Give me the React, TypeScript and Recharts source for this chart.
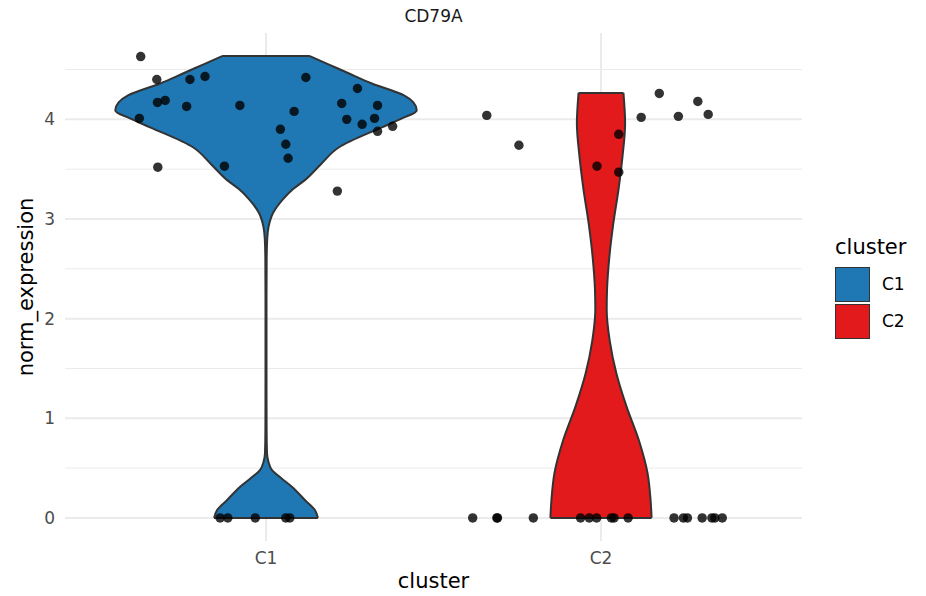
import { ComposedChart, Area, Line, Scatter, XAxis, YAxis, ZAxis, CartesianGrid } from 'recharts';

const FONT = '"DejaVu Sans", sans-serif';
const GRID = '#EBEBEB';
const OUTLINE = '#333333';

const clusters = ['C1', 'C2'];
const clusterFill = ['#1F78B4', '#E31A1C'];

// density outline per cluster: expression level and half width (category units)
const c1Level = [0, 0.08, 0.18, 0.31, 0.4, 0.48, 0.56, 0.65, 0.9, 1.5, 2.2, 2.6, 2.8, 2.92, 3.06, 3.2, 3.3, 3.39, 3.55, 3.72, 3.92, 4.01, 4.09, 4.17, 4.24, 4.36, 4.46, 4.55, 4.635];
const c1Half = [0.155, 0.146, 0.116, 0.078, 0.045, 0.018, 0.0075, 0.003, 0.0018, 0.0015, 0.0015, 0.002, 0.0036, 0.0075, 0.021, 0.051, 0.081, 0.116, 0.164, 0.218, 0.346, 0.406, 0.45, 0.44, 0.412, 0.316, 0.248, 0.188, 0.131];
const c2Level = [0, 0.18, 0.45, 0.78, 1.12, 1.45, 1.78, 2.09, 2.29, 2.62, 2.96, 3.29, 3.62, 3.96, 4.265];
const c2Half = [0.151, 0.148, 0.139, 0.113, 0.076, 0.046, 0.026, 0.017, 0.018, 0.025, 0.037, 0.052, 0.064, 0.072, 0.067];

// jittered cells
const c1JitterX = [0.626, 0.674, 0.773, 0.818, 1.119, 1.273, 0.676, 0.699, 0.763, 0.922, 0.622, 1.084, 1.226, 1.333, 1.241, 1.324, 1.287, 1.333, 1.378, 1.043, 1.059, 1.066, 0.876, 0.677, 1.213, 0.863, 0.886, 0.968, 1.059, 1.071];
const c1Expr = [4.63, 4.4, 4.4, 4.43, 4.42, 4.31, 4.17, 4.19, 4.13, 4.14, 4.01, 4.08, 4.16, 4.14, 4.0, 4.01, 3.95, 3.88, 3.93, 3.9, 3.75, 3.61, 3.53, 3.52, 3.28, 0, 0, 0, 0, 0];
const c2JitterX = [1.659, 1.755, 2.174, 2.289, 2.12, 2.231, 2.32, 2.053, 1.988, 2.053, 1.617, 1.689, 1.691, 1.798, 1.939, 1.965, 1.987, 2.031, 2.039, 2.081, 2.218, 2.246, 2.258, 2.302, 2.331, 2.34, 2.362];
const c2Expr = [4.04, 3.74, 4.26, 4.18, 4.02, 4.03, 4.05, 3.85, 3.53, 3.47, 0, 0, 0, 0, 0, 0, 0, 0, 0, 0, 0, 0, 0, 0, 0, 0, 0];

const yTicks = [0, 1, 2, 3, 4];
const yMinor = [0.5, 1.5, 2.5, 3.5, 4.5];

const violins = [
  { level: c1Level, half: c1Half },
  { level: c2Level, half: c2Half },
].map((v, i) => {
  const pos = i + 1;
  const last = v.level.length - 1;
  return {
    name: clusters[i],
    fill: clusterFill[i],
    rows: v.level.map((y, k) => ({ y, band: [pos - v.half[k], pos + v.half[k]] })),
    // flat ends of the trimmed violin
    bottom: [{ y: v.level[0], edge: pos - v.half[0] }, { y: v.level[0], edge: pos + v.half[0] }],
    top: [{ y: v.level[last], edge: pos - v.half[last] }, { y: v.level[last], edge: pos + v.half[last] }],
  };
});

const cells = [
  ...c1JitterX.map((x, i) => ({ x, y: c1Expr[i] })),
  ...c2JitterX.map((x, i) => ({ x, y: c2Expr[i] })),
];

const yMax = Math.max(...c1Level, ...c2Level);
const yPad = yMax * 0.05;

function ClusterLegend() {
  return (
    <div style={{ position: 'absolute', left: 835, top: 237 }}>
      <div style={{ fontSize: 21, lineHeight: '21px', color: '#000' }}>cluster</div>
      {clusters.map((c, i) => (
        <div key={c} style={{ position: 'absolute', left: 0, top: 30 + i * 37, display: 'flex', alignItems: 'center' }}>
          <div style={{ width: 33, height: 33, background: clusterFill[i], border: `1.5px solid ${OUTLINE}` }} />
          <span style={{ marginLeft: 12, fontSize: 17, lineHeight: '17px', color: '#000' }}>{c}</span>
        </div>
      ))}
    </div>
  );
}

export default function App() {
  return (
    <div style={{ position: 'absolute', left: 0, top: 0, width: 926, height: 596, background: '#fff', fontFamily: FONT }}>
      <div style={{ position: 'absolute', left: 65, width: 737, top: 8, textAlign: 'center', fontSize: 17, lineHeight: '17px', color: '#1A1A1A' }}>
        CD79A
      </div>
      <ComposedChart width={926} height={596} layout="vertical"
        margin={{ top: 33, right: 124, bottom: 0, left: 0 }} style={{ fontFamily: FONT }}>
        <CartesianGrid stroke={GRID} strokeWidth={1} horizontalValues={yMinor} vertical={false} syncWithTicks />
        <CartesianGrid stroke={GRID} strokeWidth={2} syncWithTicks />
        <XAxis type="number" dataKey="x" domain={[0.4, 2.6]} allowDataOverflow ticks={[1, 2]}
          tickFormatter={(v: number) => clusters[v - 1]} axisLine={false} tickLine={false}
          tickSize={0} tickMargin={11} height={55} tick={{ fill: '#4D4D4D', fontSize: 17 }}
          label={{ value: 'cluster', position: 'insideBottom', offset: 8, fill: '#000', fontSize: 21 }} />
        <YAxis type="number" dataKey="y" domain={[-yPad, yMax + yPad]} allowDataOverflow reversed
          ticks={yTicks} axisLine={false} tickLine={false} tickSize={0} tickMargin={10} width={65}
          tick={{ fill: '#4D4D4D', fontSize: 17 }}
          label={{ value: 'norm_expression', angle: -90, position: 'insideLeft', offset: 26, fill: '#000', fontSize: 21, style: { textAnchor: 'middle' } }} />
        <ZAxis range={[70, 70]} />
        {violins.map(v => (
          <Area key={v.name} data={v.rows} dataKey="band" type="monotone" fill={v.fill} fillOpacity={1}
            stroke={OUTLINE} strokeWidth={2} dot={false} activeDot={false} isAnimationActive={false} />
        ))}
        {violins.flatMap(v => [v.bottom, v.top].map((edge, k) => (
          <Line key={`${v.name}-${k}`} data={edge} dataKey="edge" type="linear" stroke={OUTLINE}
            strokeWidth={2} dot={false} activeDot={false} isAnimationActive={false} />
        )))}
        <Scatter data={cells} fill="#000" fillOpacity={0.8} isAnimationActive={false} />
      </ComposedChart>
      <ClusterLegend />
    </div>
  );
}
